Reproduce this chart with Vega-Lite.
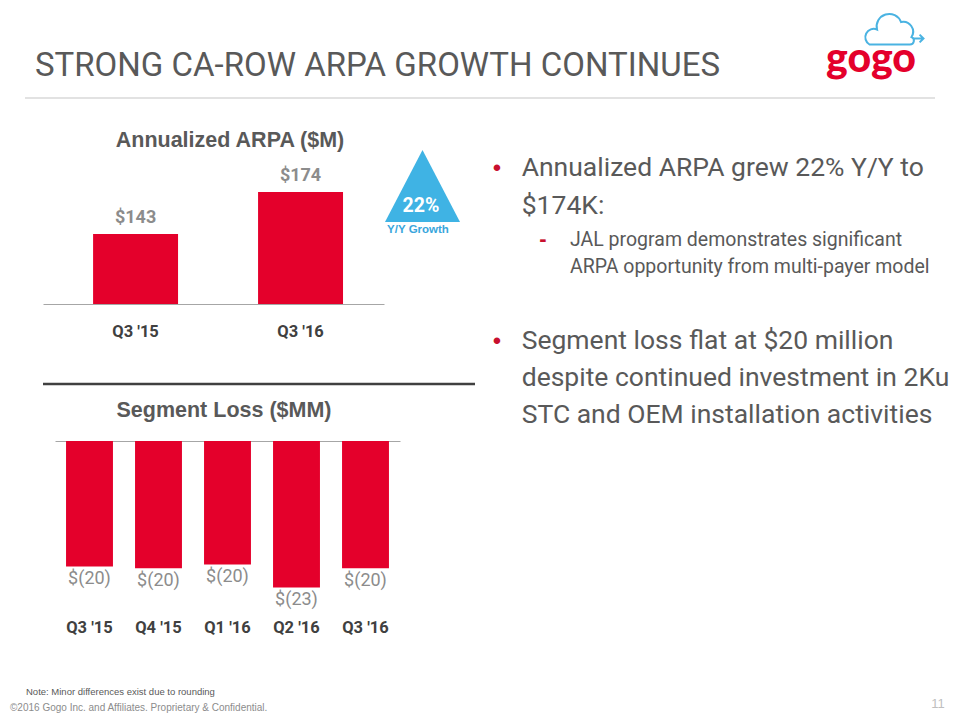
{
  "$schema": "https://vega.github.io/schema/vega-lite/v6.json",
  "padding": 0,
  "background": "white",
  "bounds": "flush",
  "columns": 2,
  "spacing": {"row": 137, "column": 0},
  "config": {
    "view": {"stroke": null},
    "font": "Liberation Sans",
    "axis": {"grid": false}
  },
  "concat": [
    {
      "width": 480,
      "height": 18,
      "data": {"values": [{"title": "STRONG CA-ROW ARPA GROWTH CONTINUES", "note": "Note: Minor differences exist due to rounding", "copyright": "©2016 Gogo Inc. and Affiliates. Proprietary & Confidential.", "page": "11"}]},
      "layer": [
        {
          "mark": {"type": "text", "font": "Roboto", "fontSize": 33, "color": "#595959", "align": "left", "baseline": "alphabetic"},
          "encoding": {"text": {"field": "title"}, "x": {"value": 35}, "y": {"value": 76}}
        },
        {
          "mark": {"type": "rule", "color": "#d9d9d9", "strokeWidth": 1.5},
          "encoding": {"x": {"value": 25}, "x2": {"value": 935}, "y": {"value": 98}}
        },
        {
          "mark": {"type": "text", "align": "left", "baseline": "alphabetic", "fontSize": 9.5, "color": "#595959"},
          "encoding": {"text": {"field": "note"}, "x": {"value": 26}, "y": {"value": 695}}
        },
        {
          "mark": {"type": "text", "align": "left", "baseline": "alphabetic", "fontSize": 10, "color": "#8c8c8c"},
          "encoding": {"text": {"field": "copyright"}, "x": {"value": 10}, "y": {"value": 711}}
        },
        {
          "mark": {"type": "text", "align": "center", "baseline": "alphabetic", "fontSize": 13, "color": "#bfbfbf"},
          "encoding": {"text": {"field": "page"}, "x": {"value": 938}, "y": {"value": 708}}
        }
      ]
    },
    {
      "width": 480,
      "height": 18,
      "data": {"values": [{"logo": "gogo"}]},
      "layer": [
        {
          "mark": {"type": "text", "font": "Lato", "fontWeight": 900, "fontSize": 41, "color": "#e4002b", "align": "center", "baseline": "alphabetic"},
          "encoding": {"text": {"field": "logo"}, "x": {"value": 391}, "y": {"value": 72}}
        },
        {
          "mark": {"type": "point", "shape": "M-0.85,0.45 A0.28,0.28 0 0 1 -0.6,-0.05 A0.42,0.42 0 0 1 0.2,-0.3 A0.33,0.33 0 0 1 0.55,0.2 A0.13,0.13 0 0 1 0.5,0.45 Z M0.6,0.25 L0.95,0.25 M0.82,0.12 L0.95,0.25 L0.82,0.38", "filled": false, "color": "#4ab3e2", "strokeWidth": 2, "opacity": 1, "size": 3600},
          "encoding": {"x": {"value": 415}, "y": {"value": 31}}
        }
      ]
    },
    {
      "width": 480,
      "height": 149,
      "title": {"text": "Annualized ARPA ($M)", "font": "Liberation Sans", "fontSize": 21.5, "fontWeight": "bold", "color": "#595959", "anchor": "middle", "dx": -10, "offset": -1},
      "data": {"values": [
        {"quarter": "Q3 '15", "arpa": 143, "label": "$143"},
        {"quarter": "Q3 '16", "arpa": 174, "label": "$174"}
      ]},
      "encoding": {
        "x": {
          "field": "quarter", "type": "nominal", "sort": null,
          "scale": {"range": [43, 384], "paddingInner": 0.485, "paddingOuter": 0.276, "align": 0.55},
          "axis": {"title": null, "domain": true, "domainColor": "#a6a6a6", "domainWidth": 1, "ticks": false, "labelAngle": 0, "labelFont": "Roboto", "labelFontWeight": "bold", "labelFontSize": 16.5, "labelColor": "#404040", "labelPadding": 19}
        },
        "y": {"field": "arpa", "type": "quantitative", "scale": {"domain": [91.3, 201.3], "zero": false, "nice": false}, "axis": null}
      },
      "layer": [
        {"mark": {"type": "bar", "color": "#e4002b", "clip": true}},
        {
          "mark": {"type": "text", "font": "Roboto", "fontWeight": "bold", "fontSize": 18, "color": "#8c8c8c", "baseline": "bottom", "dy": -7},
          "encoding": {"text": {"field": "label"}}
        },
        {
          "data": {"values": [{"growth": "22%", "caption": "Y/Y Growth"}]},
          "layer": [
            {
              "mark": {"type": "point", "shape": "M0,-0.96L1,0.96L-1,0.96Z", "filled": true, "color": "#3fb3e4", "opacity": 1, "size": 5625},
              "encoding": {"x": {"value": 422.5}, "y": {"value": 31}}
            },
            {
              "mark": {"type": "text", "font": "Roboto", "fontWeight": "bold", "fontSize": 19.5, "color": "white", "baseline": "middle"},
              "encoding": {"text": {"field": "growth"}, "x": {"value": 421}, "y": {"value": 51}}
            },
            {
              "mark": {"type": "text", "font": "Liberation Sans", "fontWeight": "bold", "fontSize": 11.5, "color": "#3aa6dc", "baseline": "middle"},
              "encoding": {"text": {"field": "caption"}, "x": {"value": 418}, "y": {"value": 75}}
            },
            {
              "mark": {"type": "rule", "color": "#404040", "strokeWidth": 2.5},
              "encoding": {"x": {"value": 43}, "x2": {"value": 475}, "y": {"value": 229}}
            }
          ]
        }
      ]
    },
    {
      "width": 480,
      "height": 149,
      "data": {"values": [
        {"line": 1, "level": 1, "marker": "•", "text": "Annualized ARPA grew 22% Y/Y to"},
        {"line": 2, "level": 1, "marker": "", "text": "$174K:"},
        {"line": 3, "level": 2, "marker": "-", "text": "JAL program demonstrates significant"},
        {"line": 4, "level": 2, "marker": "", "text": "ARPA opportunity from multi-payer model"},
        {"line": 5, "level": 1, "marker": "•", "text": "Segment loss flat at $20 million"},
        {"line": 6, "level": 1, "marker": "", "text": "despite continued investment in 2Ku"},
        {"line": 7, "level": 1, "marker": "", "text": "STC and OEM installation activities"}
      ]},
      "encoding": {
        "x": {"field": "level", "type": "quantitative", "scale": {"domain": [1, 2], "range": [41.7, 90], "zero": false, "nice": false}, "axis": null},
        "y": {"field": "line", "type": "quantitative", "scale": {"domain": [1, 2, 3, 4, 5, 6, 7], "range": [21, 59, 91, 118, 194, 231, 268], "zero": false, "nice": false}, "axis": null}
      },
      "layer": [
        {
          "transform": [{"filter": "datum.level == 1"}],
          "mark": {"type": "text", "align": "left", "baseline": "alphabetic", "font": "Roboto", "fontSize": 26.5, "color": "#595959"},
          "encoding": {"text": {"field": "text"}}
        },
        {
          "transform": [{"filter": "datum.level == 2"}],
          "mark": {"type": "text", "align": "left", "baseline": "alphabetic", "font": "Roboto", "fontSize": 19.5, "color": "#595959"},
          "encoding": {"text": {"field": "text"}}
        },
        {
          "transform": [{"filter": "datum.marker == '•'"}],
          "mark": {"type": "text", "align": "center", "baseline": "alphabetic", "font": "Liberation Sans", "fontSize": 24, "color": "#c8102e", "dx": -24.7},
          "encoding": {"text": {"field": "marker"}}
        },
        {
          "transform": [{"filter": "datum.marker == '-'"}],
          "mark": {"type": "text", "align": "center", "baseline": "alphabetic", "font": "Liberation Sans", "fontSize": 22, "fontWeight": "bold", "color": "#c8102e", "dx": -27},
          "encoding": {"text": {"field": "marker"}}
        }
      ]
    },
    {
      "width": 480,
      "height": 169,
      "title": {"text": "Segment Loss ($MM)", "font": "Liberation Sans", "fontSize": 21.5, "fontWeight": "bold", "color": "#595959", "anchor": "middle", "dx": -16, "offset": 20},
      "data": {"values": [
        {"quarter": "Q3 '15", "loss": -19.7, "label": "$(20)"},
        {"quarter": "Q4 '15", "loss": -20.0, "label": "$(20)"},
        {"quarter": "Q1 '16", "loss": -19.4, "label": "$(20)"},
        {"quarter": "Q2 '16", "loss": -23.0, "label": "$(23)"},
        {"quarter": "Q3 '16", "loss": -20.0, "label": "$(20)"}
      ]},
      "layer": [
        {
          "mark": {"type": "bar", "color": "#e4002b"},
          "encoding": {
            "x": {
              "field": "quarter", "type": "nominal", "sort": null,
              "scale": {"range": [55, 400], "paddingInner": 0.32, "paddingOuter": 0.16},
              "axis": {"orient": "bottom", "title": null, "domain": false, "ticks": false, "labelAngle": 0, "labelFont": "Roboto", "labelFontWeight": "bold", "labelFontSize": 16.5, "labelColor": "#404040", "labelPadding": 9}
            },
            "y": {"field": "loss", "type": "quantitative", "scale": {"domain": [-26.55, 0], "nice": false, "zero": false}, "axis": null}
          }
        },
        {
          "mark": {"type": "text", "font": "Roboto", "fontSize": 18, "color": "#8c8c8c", "baseline": "top", "dy": 4},
          "encoding": {
            "x": {
              "field": "quarter", "type": "nominal", "sort": null,
              "axis": {"orient": "top", "title": null, "domain": true, "domainColor": "#a6a6a6", "domainWidth": 1, "labels": false, "ticks": false}
            },
            "y": {"field": "loss", "type": "quantitative"},
            "text": {"field": "label"}
          }
        }
      ],
      "resolve": {"axis": {"x": "independent"}}
    }
  ]
}
